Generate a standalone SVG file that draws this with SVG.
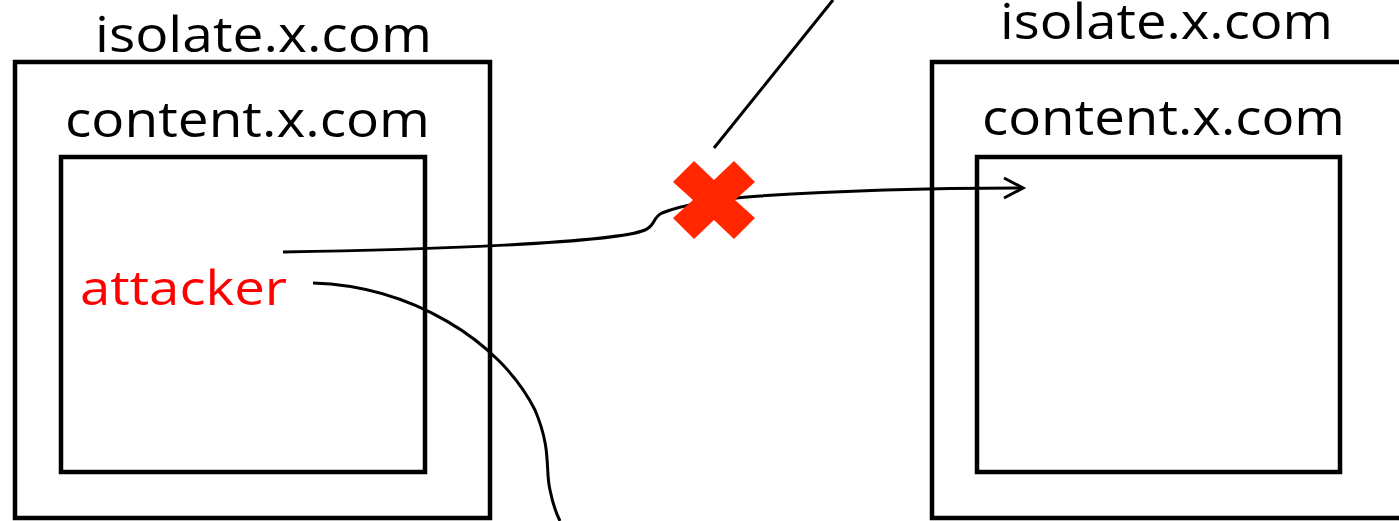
<svg xmlns="http://www.w3.org/2000/svg" width="1399" height="521" viewBox="0 0 1399 521">
<style>
.box{fill:none;stroke:#000;stroke-width:4.5}
.lbl{font-family:"Open Sans","Liberation Sans",sans-serif;font-size:50px;fill:#000}
.atk{font-family:"Open Sans","Liberation Sans",sans-serif;font-size:48px;fill:#FF0000}
.con{fill:none;stroke:#000;stroke-width:3}
</style>
<rect width="1399" height="521" fill="#fff"/>
<g id="left-isolate">
<rect class="box" x="15" y="62" width="475" height="456"/>
<text class="lbl" x="95" y="52" textLength="337" lengthAdjust="spacingAndGlyphs">isolate.x.com</text>
</g>
<g id="left-content">
<rect class="box" x="61" y="157" width="364" height="315"/>
<text class="lbl" x="65" y="137" textLength="365" lengthAdjust="spacingAndGlyphs">content.x.com</text>
</g>
<g id="attacker">
<text class="atk" x="80" y="305" textLength="207" lengthAdjust="spacingAndGlyphs">attacker</text>
</g>
<g id="right-isolate">
<rect class="box" x="932" y="62" width="500" height="456"/>
<text class="lbl" x="1000" y="39" font-size="47" textLength="333" lengthAdjust="spacingAndGlyphs">isolate.x.com</text>
</g>
<g id="right-content">
<rect class="box" x="977" y="157" width="363" height="315"/>
<text class="lbl" x="982" y="135" textLength="363" lengthAdjust="spacingAndGlyphs">content.x.com</text>
</g>
<g id="connectors">
<path class="con" d="M283,252 C420,250 615,243 645,230 C656,225 652,218 662,213 C690,202 730,198 760,196 C850,190 940,188 1023,188"/>
<path class="con" d="M1004,178 L1023,188 L1004,198"/>
<path class="con" d="M313,283 C410,286 500,340 535,410 C552,450 545,470 550,490 C553,505 557,515 560,521"/>
<line class="con" x1="714" y1="148" x2="833" y2="0"/>
</g>
<g id="blocked">
<polygon fill="#FF2600" points="714,180 734,161 755,182 735,200 755,218 734,239 714,220 694,239 673,218 693,200 673,182 694,161"/>
</g>
</svg>
